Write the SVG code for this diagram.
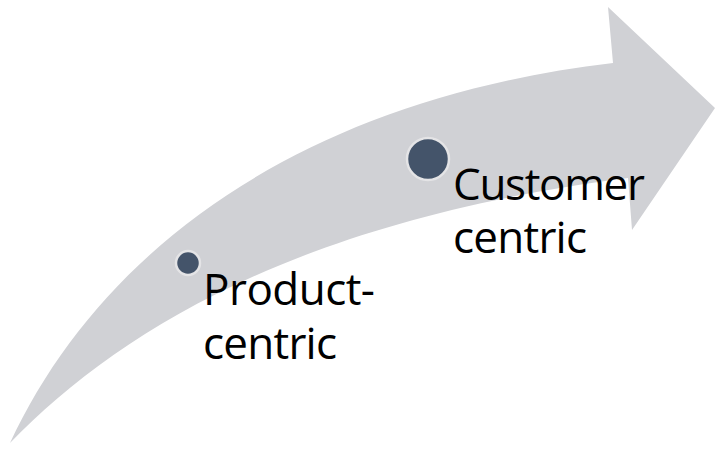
<svg xmlns="http://www.w3.org/2000/svg" width="715" height="454" viewBox="0 0 715 454">
<style>
.lbl{font-family:"Open Sans","Liberation Sans",sans-serif;font-size:44px;fill:#000}
.dot{fill:#44546a;stroke:#e4e4e6;stroke-width:2.5}
</style>
<rect width="715" height="454" fill="#fff"/>
<g id="connectors">
<path id="arrow" d="M10,443 C100,250 300,100 613,63 L608,7 L715,108 L632,230 L628,178 C300,220 120,330 10,443 Z" fill="#d0d1d5"/>
</g>
<g id="node-product">
<circle class="dot" cx="188" cy="263" r="12"/>
<text class="lbl"><tspan x="203" y="305" textLength="172">Product-</tspan><tspan x="203" y="359" textLength="134">centric</tspan></text>
</g>
<g id="node-customer">
<circle class="dot" cx="428" cy="159" r="21"/>
<text class="lbl"><tspan x="453" y="200" textLength="192">Customer</tspan><tspan x="453" y="253" textLength="134">centric</tspan></text>
</g>
</svg>
